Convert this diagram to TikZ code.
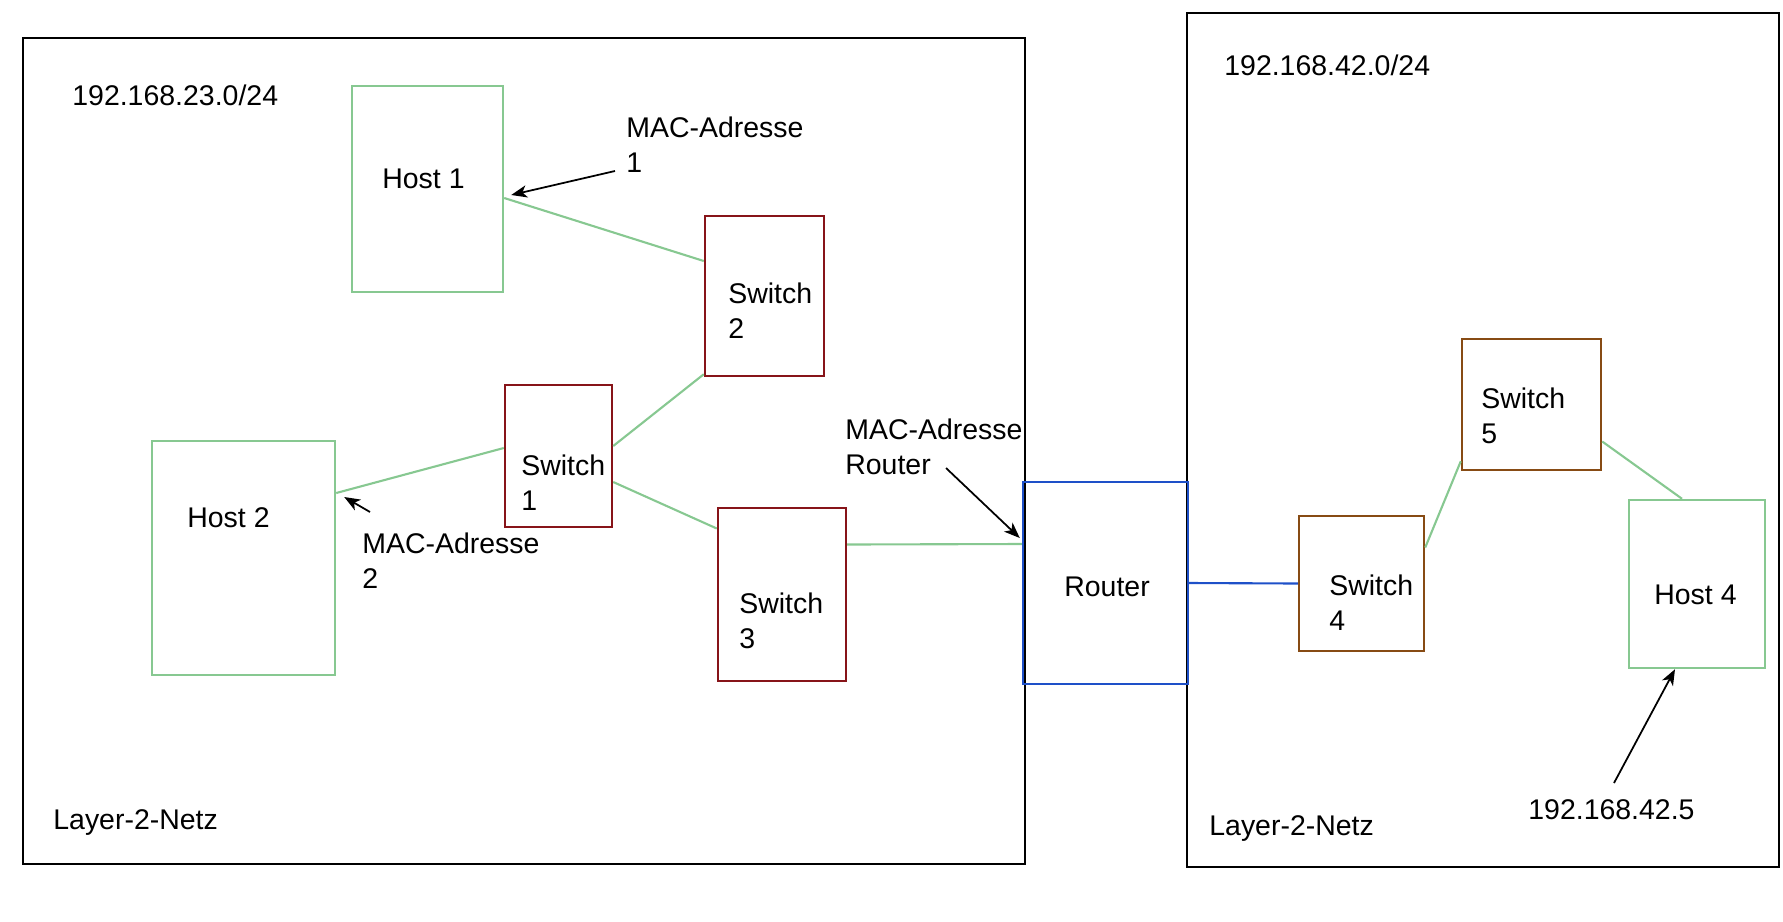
\documentclass[tikz,border=0pt]{standalone}
\usepackage{fontspec}
\setmainfont{Liberation Sans}
\usepackage{tikz}
\usetikzlibrary{calc,arrows.meta,positioning}
\definecolor{hostgreen}{RGB}{135,200,145}
\definecolor{switchred}{RGB}{135,20,25}
\definecolor{switchbrown}{RGB}{135,75,20}
\definecolor{routerblue}{RGB}{30,80,200}
\newcommand{\pxunit}{0.02cm}
\newcommand{\labelfont}{\fontsize{16.2pt}{19.9pt}\selectfont}
\tikzstyle{net}=[draw, line width=1.6pt]
\tikzstyle{host}=[draw=hostgreen, rectangle, line width=1.4pt, inner sep=0]
\tikzstyle{switchbox}=[draw=switchred, rectangle, line width=1.4pt, inner sep=0]
\tikzstyle{bridge}=[draw=switchbrown, rectangle, line width=1.4pt, inner sep=0]
\tikzstyle{router}=[draw=routerblue, rectangle, line width=1.4pt, inner sep=0]
\tikzstyle{caption}=[font=\labelfont, inner sep=0, align=left, anchor=west]
\tikzstyle{link}=[-, draw=hostgreen, line width=1.2pt]
\tikzstyle{uplink}=[-, draw=routerblue, line width=1.2pt]
\tikzstyle{arrow}=[-{Stealth[length=9pt, width=7pt, inset=2.5pt]}, line width=1pt]

\begin{document}
\begin{tikzpicture}[x=\pxunit, y=-\pxunit]
  \useasboundingbox (0,0) rectangle (1783,921);

  % the two networks
  \draw[net] (23,38) rectangle (1025,864);
  \draw[net] (1187,13) rectangle (1779,867);
  \node[caption] (net1) at (72,95) {192.168.23.0/24};
  \node[caption] (net2) at (1224,65) {192.168.42.0/24};
  \node[caption] (l2left) at (53,823) {Layer-2-Netz};
  \node[caption] (l2right) at (1209,828) {Layer-2-Netz};

  % hosts
  \node[host, minimum width=151*\pxunit, minimum height=206*\pxunit] (H1) at (427.5,189) {};
  \node[host, minimum width=183*\pxunit, minimum height=234*\pxunit] (H2) at (243.5,558) {};
  \node[host, minimum width=136*\pxunit, minimum height=168*\pxunit] (H4) at (1697,584) {};
  \node[caption] (H1txt) at (382,179) {Host 1};
  \node[caption] (H2txt) at (187,518) {Host 2};
  \node[caption] (H4txt) at (1654,595) {Host 4};

  % switches and router
  \node[switchbox, minimum width=107*\pxunit, minimum height=142*\pxunit] (S1) at (558.5,456) {};
  \node[switchbox, minimum width=119*\pxunit, minimum height=160*\pxunit] (S2) at (764.5,296) {};
  \node[switchbox, minimum width=128*\pxunit, minimum height=173*\pxunit] (S3) at (782,594.5) {};
  \node[router, minimum width=165*\pxunit, minimum height=202*\pxunit] (R) at (1105.5,583) {};
  \node[bridge, minimum width=125*\pxunit, minimum height=135*\pxunit] (S4) at (1361.5,583.5) {};
  \node[bridge, minimum width=139*\pxunit, minimum height=131*\pxunit] (S5) at (1531.5,404.5) {};
  \node[caption] (S1txt) at (521,482.5) {Switch\\1};
  \node[caption] (S2txt) at (728,310.5) {Switch\\2};
  \node[caption] (S3txt) at (739,620.5) {Switch\\3};
  \node[caption] (Rtxt) at (1064,587) {Router};
  \node[caption] (S4txt) at (1329,602.5) {Switch\\4};
  \node[caption] (S5txt) at (1481,415.5) {Switch\\5};

  % annotations
  \node[caption] (M1) at (626,144.5) {MAC-Adresse\\1};
  \node[caption] (M2) at (362,561) {MAC-Adresse\\2};
  \node[caption] (MR) at (845,447) {MAC-Adresse\\Router};
  \node[caption] (IP4) at (1528,810) {192.168.42.5};

  % links
  \draw[link] ($(H1.east)+(0,9)$) -- ($(S2.west)+(0,-35)$);
  \draw[link] ($(S2.south west)+(0,-3)$) -- ($(S1.east)+(0,-10)$);
  \draw[link] ($(S1.west)+(0,-8)$) -- ($(H2.east)+(0,-65)$);
  \draw[link] ($(S1.east)+(0,26)$) -- ($(S3.west)+(0,-66)$);
  \draw[link] ($(S3.east)+(0,-50)$) -- ($(R.west)+(0,-39)$);
  \draw[uplink] (R.east) -- (S4.west);
  \draw[link] ($(S4.east)+(0,-36)$) -- ($(S5.south west)+(0,-10)$);
  \draw[link] ($(S5.east)+(0,37)$) -- ($(H4.north)+(-15,0)$);

  % pointers
  \coordinate (M1tail) at (615,171);
  \coordinate (M2tail) at (370,512);
  \coordinate (MRtail) at (946,468);
  \coordinate (IPtail) at (1614,783);
  \draw[arrow] (M1tail) -- ($(H1.east)+(7,6)$);
  \draw[arrow] (M2tail) -- ($(H2.east)+(8,-61)$);
  \draw[arrow] (MRtail) -- ($(R.west)+(-2,-45)$);
  \draw[arrow] (IPtail) -- ($(H4.south)+(-22,0)$);
\end{tikzpicture}
\end{document}
